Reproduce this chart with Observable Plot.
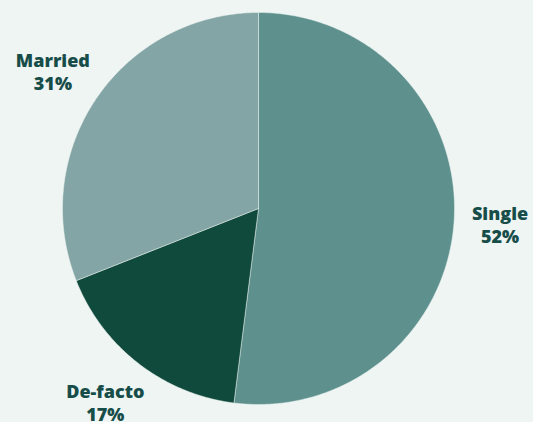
<!DOCTYPE html>
<html>
<head>
<meta charset="utf-8">
<script src="https://cdn.jsdelivr.net/npm/d3@7"></script>
<script src="https://cdn.jsdelivr.net/npm/@observablehq/plot@0.6"></script>
<style>
  html, body { margin: 0; padding: 0; background: #eef5f3; }
  #chart { width: 533px; height: 422px; overflow: hidden; }
</style>
</head>
<body>
<div id="chart"></div>
<script>
const categories = ["Single", "De-facto", "Married"];
const shares = [52, 17, 31];
const sliceColors = ["#5e918e", "#0f4a3c", "#84a5a5"];

// Geometry (pie drawn in unit-radius data space)
const W = 533, H = 422;
const cx = 258, cy = 208, R = 196;
const labelR = 1.25;

const pie = d3.pie().sort(null).value(d => d.share)(
  categories.map((c, i) => ({ label: c, share: shares[i] }))
);

// Outline points of each slice (geometry of the arc, not data)
const outline = [];
for (const p of pie) {
  const lab = p.data.label;
  outline.push({ label: lab, x: 0, y: 0 });
  const steps = Math.max(2, Math.ceil((p.endAngle - p.startAngle) / (Math.PI / 360)));
  for (let k = 0; k <= steps; k++) {
    const a = p.startAngle + (p.endAngle - p.startAngle) * k / steps;
    outline.push({ label: lab, x: Math.sin(a), y: Math.cos(a) });
  }
  outline.push({ label: lab, x: 0, y: 0 });
}

const labels = pie.map(p => {
  const a = (p.startAngle + p.endAngle) / 2;
  return { text: `${p.data.label}\n${p.data.share}%`, x: labelR * Math.sin(a), y: labelR * Math.cos(a) };
});

const chart = Plot.plot({
  width: W,
  height: H,
  margin: 0,
  x: { domain: [-cx / R, (W - cx) / R], axis: null },
  y: { domain: [-(H - cy) / R, cy / R], axis: null },
  color: { domain: categories, range: sliceColors },
  style: { background: "#eef5f3", fontFamily: "'Open Sans', Inter, sans-serif" },
  marks: [
    Plot.line(outline, { x: "x", y: "y", z: "label", fill: "label", stroke: "#eef5f3", strokeWidth: 0.8, strokeOpacity: 0.6 }),
    Plot.text(labels, { x: "x", y: "y", dx: -3, text: "text", fill: "#174d49", fontSize: 18, fontWeight: 800, lineHeight: 1.3, textAnchor: "middle" })
  ]
});
document.getElementById("chart").appendChild(chart);
</script>
</body>
</html>
